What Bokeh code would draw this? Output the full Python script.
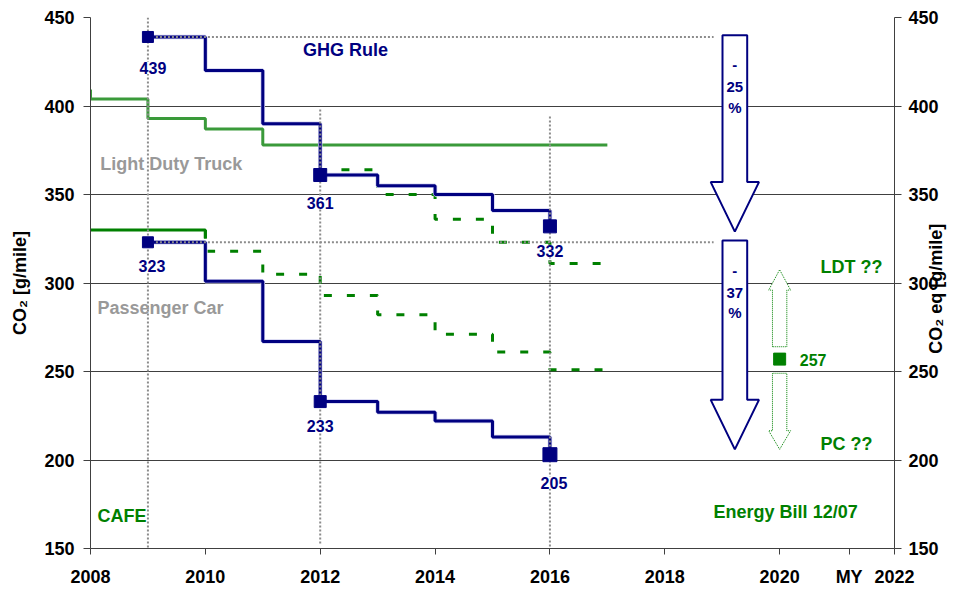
import math
from bokeh.plotting import figure
from bokeh.models import Range1d, LinearAxis, Label, FixedTicker
from bokeh.embed import file_html
from bokeh.resources import INLINE

# ---------------- data ----------------
x_ticks = [2008, 2010, 2012, 2014, 2016, 2018, 2020, 2022]
y_ticks = [150, 200, 250, 300, 350, 400, 450]

ghg_years = [2009, 2010, 2011, 2012, 2013, 2014, 2015, 2016]
ghg_ldt = [439, 420, 390, 361, 355, 350, 341, 332]
ghg_pc = [323, 301, 267, 233, 227, 222, 213, 203]

key_years = [2009, 2012, 2016]
key_ldt = [439, 361, 332]
key_pc = [323, 233, 203]
key_ldt_labels = ["439", "361", "332"]
key_pc_labels = ["323", "233", "205"]

cafe_ldt_years = [2007.9, 2008, 2009, 2010, 2011, 2017]
cafe_ldt = [409, 404, 393, 387, 378, 378]
cafe_pc_years = [2008, 2010]
cafe_pc = [330, 325]

proj_ldt_years = [2012, 2012, 2013, 2014, 2015, 2016, 2017]
proj_ldt = [378, 364, 350, 336, 323, 311, 311]
proj_pc_years = [2010, 2010, 2011, 2012, 2013, 2014, 2015, 2016, 2017]
proj_pc = [330, 318, 305, 293, 282, 271, 261, 251, 251]

pct_labels = ["25", "37"]
future_year = 2020
future_value = 257
future_label = "257"

NAVY = "#000080"
GREEN = "#008000"
LGREEN = "#3a9a3a"
GRAY_TXT = "#999999"
FONT = "Liberation Sans"


def steps(xs, vs):
    x = [xs[0]]
    y = [vs[0]]
    for i in range(1, len(xs)):
        x += [xs[i], xs[i]]
        y += [vs[i - 1], vs[i]]
    return x, y


p = figure(width=960, height=589, x_range=Range1d(2008, 2022), y_range=Range1d(150, 450),
           output_backend="svg", toolbar_location=None,
           min_border_left=90, min_border_right=66, min_border_top=17, min_border_bottom=39)
p.outline_line_color = None
p.background_fill_color = "white"
p.xgrid.visible = False
p.ygrid.ticker = FixedTicker(ticks=y_ticks)
p.ygrid.grid_line_color = "#404040"
p.ygrid.grid_line_width = 1

# axes
my_pos = 2021.21   # where the "MY" caption sits on the x axis
p.xaxis.ticker = FixedTicker(ticks=x_ticks + [my_pos])
p.xaxis.major_label_overrides = {my_pos: "MY"}
p.yaxis.ticker = FixedTicker(ticks=y_ticks)
for ax in [p.xaxis[0], p.yaxis[0]]:
    ax.axis_line_color = "#404040"
    ax.major_tick_line_color = "#404040"
    ax.minor_tick_line_color = None
    ax.major_tick_in = 0
    ax.major_label_text_font = FONT
    ax.major_label_text_font_style = "bold"
    ax.major_label_text_font_size = "18px"
    ax.major_label_text_color = "black"
    ax.axis_label_text_font = FONT
    ax.axis_label_text_font_style = "bold"
    ax.axis_label_text_font_size = "18px"
    ax.axis_label_text_color = "black"
p.xaxis.major_tick_out = 6
p.xaxis.major_label_standoff = 12
p.yaxis.major_tick_out = 7
p.yaxis.major_label_standoff = 9
p.yaxis.axis_label = "CO₂ [g/mile]"
p.yaxis.axis_label_standoff = 11

ry = LinearAxis(ticker=FixedTicker(ticks=y_ticks))
ry.axis_line_color = "#404040"
ry.major_tick_line_color = "#404040"
ry.minor_tick_line_color = None
ry.major_tick_in = 0
ry.major_tick_out = 7
ry.major_label_standoff = 7
ry.major_label_text_font = FONT
ry.major_label_text_font_style = "bold"
ry.major_label_text_font_size = "18px"
ry.major_label_text_color = "black"
p.add_layout(ry, "right")

# right-hand axis title (reads bottom to top), carried as the single label of a bare axis
title_pos = 260
rt = LinearAxis(ticker=FixedTicker(ticks=[title_pos]))
rt.major_label_overrides = {title_pos: "CO₂ eq [g/mile]"}
rt.major_label_orientation = math.pi / 2
rt.axis_line_color = None
rt.major_tick_line_color = None
rt.minor_tick_line_color = None
rt.major_tick_in = 0
rt.major_tick_out = 0
rt.major_label_standoff = -5
rt.major_label_text_font = FONT
rt.major_label_text_font_style = "bold"
rt.major_label_text_font_size = "18px"
rt.major_label_text_color = "black"
p.add_layout(rt, "right")

# CAFE lines
x, y = steps(cafe_ldt_years, cafe_ldt)
p.line(x, y, line_color=LGREEN, line_width=3)
x, y = steps(cafe_pc_years, cafe_pc)
p.line(x, y, line_color=GREEN, line_width=3)
x, y = steps(proj_ldt_years, proj_ldt)
p.line(x, y, line_color=GREEN, line_width=3, line_dash="8 15")
x, y = steps(proj_pc_years, proj_pc)
p.line(x, y, line_color=GREEN, line_width=3, line_dash="8 15")

# GHG rule lines
for vals in (ghg_ldt, ghg_pc):
    x, y = steps(ghg_years, vals)
    p.line(x, y, line_color="#d2d2f0", line_width=4.5)
    p.line(x, y, line_color=NAVY, line_width=3)

# dotted guides
p.segment(x0=[key_years[0], key_years[1], key_years[2]], y0=[450, 398, 394],
          x1=[key_years[0], key_years[1], key_years[2]], y1=[150, 152, 150],
          line_color="#8c8c8c", line_width=2, line_dash="2 2")
p.segment(x0=[key_years[0], key_years[0]], y0=[key_ldt[0], key_pc[0]],
          x1=[2018.85, 2018.85], y1=[key_ldt[0], key_pc[0]],
          line_color="#8c8c8c", line_width=2, line_dash="2 2")

# markers
p.scatter(key_years, key_ldt, marker="square", size=[11, 13, 13], color=NAVY)
p.scatter(key_years, key_pc, marker="square", size=[11, 12, 14], color=NAVY)

# big reduction arrows
ax_c, shaft_hw, head_hw, head_len = 2019.22, 0.215, 0.42, 28
for top, tip in ((440, 329), (324, 206)):
    base = tip + head_len
    xs = [ax_c - shaft_hw, ax_c + shaft_hw, ax_c + shaft_hw, ax_c + head_hw, ax_c,
          ax_c - head_hw, ax_c - shaft_hw]
    ys = [top, top, base, base, tip, base, base]
    p.patch(xs, ys, fill_color="white", line_color=NAVY, line_width=2)

# green projection double arrow
gx, g_shw, g_hhw = future_year, 0.125, 0.19
up = ([gx - g_shw, gx - g_shw, gx - g_hhw, gx, gx + g_hhw, gx + g_shw, gx + g_shw],
      [264, 296, 296, 307.5, 296, 296, 264])
dn = ([gx - g_shw, gx - g_shw, gx - g_hhw, gx, gx + g_hhw, gx + g_shw, gx + g_shw],
      [249, 216.5, 216.5, 206, 216.5, 216.5, 249])
for xs, ys in (up, dn):
    p.patch(xs, ys, fill_color="white", line_color=GREEN, line_width=1, line_dash="1 1")
p.scatter([future_year], [future_value], marker="square", size=12, color=GREEN)


def add_label(x, y, text, color, size="18px", align="left", xo=0, yo=0, bg=None):
    lab = Label(x=x, y=y, text=text, text_color=color, text_font=FONT, text_font_style="bold",
                text_font_size=size, text_align=align, text_baseline="middle",
                x_offset=xo, y_offset=yo)
    if bg:
        lab.background_fill_color = bg
    p.add_layout(lab)


# marker value labels
ldt_offs = [(5, -31), (0, -28), (0, -25)]
pc_offs = [(4, -24), (0, -24), (4, -28)]
for yr, v, t, (xo, yo) in zip(key_years, key_ldt, key_ldt_labels, ldt_offs):
    add_label(yr, v, t, NAVY, "16px", "center", xo, yo, bg="white")
for yr, v, t, (xo, yo) in zip(key_years, key_pc, key_pc_labels, pc_offs):
    add_label(yr, v, t, NAVY, "16px", "center", xo, yo, bg="white")

# arrow texts
for top, pct in ((440, pct_labels[0]), (324, pct_labels[1])):
    add_label(ax_c, top, "-", NAVY, "15px", "center", 0, -30)
    add_label(ax_c, top, pct, NAVY, "15px", "center", 0, -52)
    add_label(ax_c, top, "%", NAVY, "15px", "center", 0, -72)

# annotations
add_label(2011.70, 431.5, "GHG Rule", NAVY)
add_label(2008.17, 367.5, "Light Duty Truck", GRAY_TXT)
add_label(2008.12, 285.9, "Passenger Car", GRAY_TXT)
add_label(2008.12, 168.1, "CAFE", GREEN)
add_label(2018.85, 170.9, "Energy Bill 12/07", GREEN)
add_label(2020.71, 309.3, "LDT ??", GREEN)
add_label(2020.71, 209.0, "PC ??", GREEN)
add_label(2020.35, 256.4, future_label, GREEN, "16px")

open("out.html", "w").write(file_html(p, INLINE))
